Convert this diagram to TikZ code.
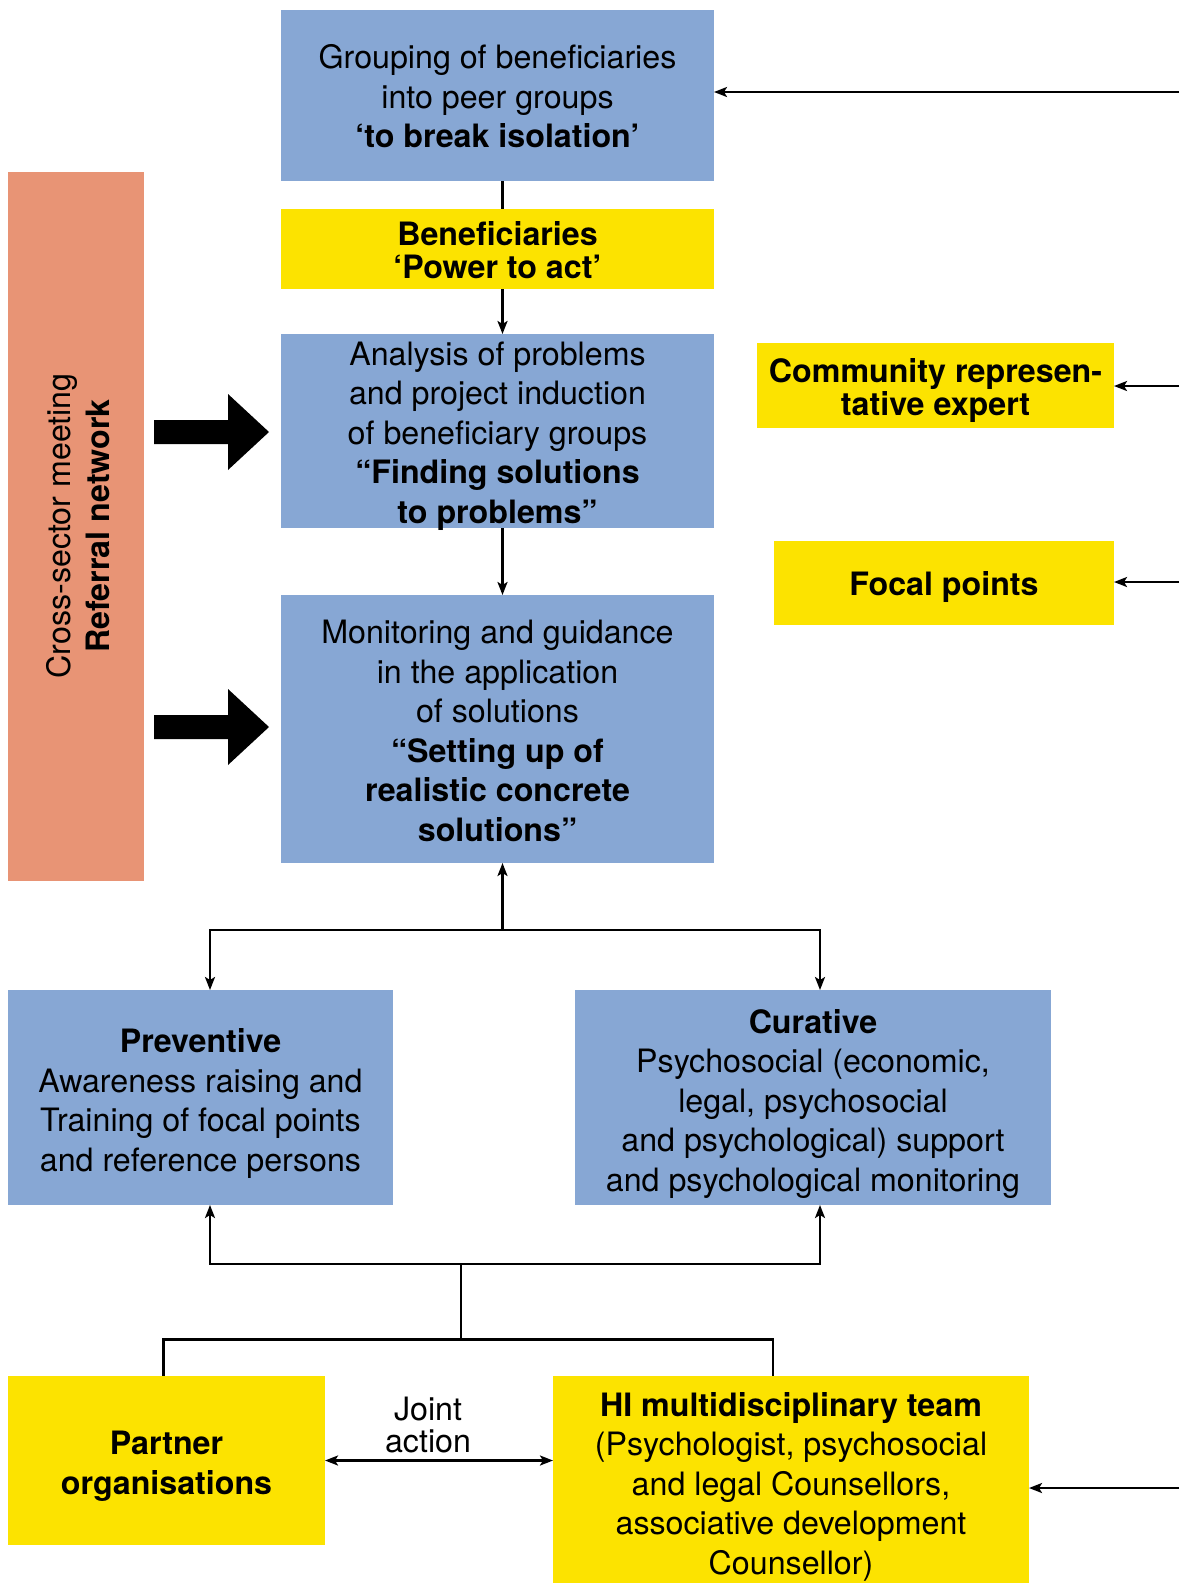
\documentclass[tikz,border=0pt]{standalone}
\usepackage{fontspec}
\setmainfont{TeX Gyre Heros}
\usetikzlibrary{arrows.meta}
\definecolor{boxblue}{HTML}{87A7D4}
\definecolor{boxyellow}{HTML}{FCE300}
\definecolor{boxorange}{HTML}{E89475}
\begin{document}
\begin{tikzpicture}[x=1pt,y=-1pt,
  box/.style={inner sep=0pt, outer sep=0pt},
  bluebox/.style={box, fill=boxblue},
  yellowbox/.style={box, fill=boxyellow},
  txt/.style={inner sep=0pt, align=center, font=\fontsize{32.2}{39.5}\selectfont},
  tightbold/.style={txt, font=\fontsize{32.2}{32.3}\selectfont\bfseries},
  conn/.style={line width=2.3pt},
  arr/.style={conn, -{Stealth[length=13pt,width=10pt,inset=3pt]}},
  darr/.style={conn, {Stealth[length=13pt,width=10pt,inset=3pt]}-{Stealth[length=13pt,width=10pt,inset=3pt]}}]
\useasboundingbox (0,0) rectangle (1179,1583);
\fill[white] (0,0) rectangle (1179,1583);

% main column
\node[bluebox, minimum width=433pt, minimum height=171pt] (top) at (497.5,95.5) {};
\node[txt] (topt) at ([yshift=-1pt]top.center)
  {Grouping of beneficiaries\\into peer groups\\\textbf{‘to break isolation’}};
\node[yellowbox, minimum width=433pt, minimum height=80pt] (benef) at (497.5,249) {};
\node[tightbold] (beneft) at ([yshift=-1pt]benef.center) {Beneficiaries\\‘Power to act’};
\node[bluebox, minimum width=433pt, minimum height=194pt] (analysis) at (497.5,431) {};
\node[txt] (analysist) at ([yshift=-5pt]analysis.center)
  {Analysis of problems\\and project induction\\of beneficiary groups\\\textbf{“Finding solutions}\\\textbf{to problems”}};
\node[bluebox, minimum width=433pt, minimum height=268pt] (monitor) at (497.5,729) {};
\node[txt] (monitort) at ([yshift=-2pt]monitor.center)
  {Monitoring and guidance\\in the application\\of solutions\\\textbf{“Setting up of}\\\textbf{realistic concrete}\\\textbf{solutions”}};

% referral network
\node[box, fill=boxorange, minimum width=136pt, minimum height=709pt] (referral) at (76,526.5) {};
\node[txt, rotate=90] (reftext) at (78,526) {Cross-sector meeting\\\textbf{Referral network}};

% right side
\node[yellowbox, minimum width=357pt, minimum height=85pt] (community) at (935.5,385.5) {};
\node[tightbold] (communityt) at ([yshift=-5pt]community.center) {Community represen-\\tative expert};
\node[yellowbox, minimum width=340pt, minimum height=84pt] (focal) at (944,583) {};
\node[tightbold] (focalt) at ([yshift=-4pt]focal.center) {Focal points};

% preventive / curative
\node[bluebox, minimum width=385pt, minimum height=215pt] (prev) at (200.5,1097.5) {};
\node[txt] (prevt) at ([yshift=-6pt]prev.center)
  {\textbf{Preventive}\\Awareness raising and\\Training of focal points\\and reference persons};
\node[bluebox, minimum width=476pt, minimum height=215pt] (cur) at (813,1097.5) {};
\node[txt] (curt) at ([yshift=-6pt]cur.center)
  {\textbf{Curative}\\Psychosocial (economic,\\legal, psychosocial\\and psychological) support\\and psychological monitoring};

% bottom
\node[yellowbox, minimum width=317pt, minimum height=169pt] (partner) at (166.5,1460.5) {};
\node[txt] (partnert) at ([yshift=-6pt]partner.center) {\textbf{Partner}\\\textbf{organisations}};
\node[yellowbox, minimum width=476pt, minimum height=207pt] (hi) at (791,1479.5) {};
\node[txt] (hit) at ([yshift=-7pt]hi.center)
  {\textbf{HI multidisciplinary team}\\(Psychologist, psychosocial\\and legal Counsellors,\\associative development\\Counsellor)};

% fat arrows
\fill[black] (154,420) -- (228,420) -- (228,394) -- (269,432) -- (228,470) -- (228,444) -- (154,444) -- cycle;
\fill[black] (154,715) -- (228,715) -- (228,689) -- (269,727) -- (228,765) -- (228,739) -- (154,739) -- cycle;

% main column connectors
\draw[conn] ([xshift=5pt]top.south) -- ([xshift=5pt]benef.north);
\draw[arr] ([xshift=5pt]benef.south) -- ([xshift=5pt]analysis.north);
\draw[arr] ([xshift=5pt]analysis.south) -- ([xshift=5pt]monitor.north);

\coordinate (split1) at (502.5,930);
\draw[arr] (split1) -- ([xshift=5pt]monitor.south);
\draw[arr] (split1) -| ([xshift=9.5pt]prev.north);
\draw[arr] (split1) -| ([xshift=7pt]cur.north);

\coordinate (j1) at (461,1264);
\coordinate (j2) at (461,1339.5);
\draw[arr] (j1) -| ([xshift=9.5pt]prev.south);
\draw[arr] (j1) -| ([xshift=7pt]cur.south);
\draw[conn] (j1) -- (j2);
\draw[conn] (j2) -| ([xshift=-3pt]partner.north);
\draw[conn] (j2) -| ([xshift=-18pt]hi.north);

% joint action
\draw[darr] (partner.east) -- (partner.east -| hi.west);
\node[txt, font=\fontsize{32.2}{31.5}\selectfont] (joint) at (428,1425) {Joint\\action};

% right incoming arrows
\coordinate (r1) at (1179,92);
\coordinate (r2) at (1179,386);
\coordinate (r3) at (1179,582);
\coordinate (r4) at (1179,1488);
\draw[arr] (r1) -- (r1 -| top.east);
\draw[arr] (r2) -- (r2 -| community.east);
\draw[arr] (r3) -- (r3 -| focal.east);
\draw[arr] (r4) -- (r4 -| hi.east);
\end{tikzpicture}
\end{document}
